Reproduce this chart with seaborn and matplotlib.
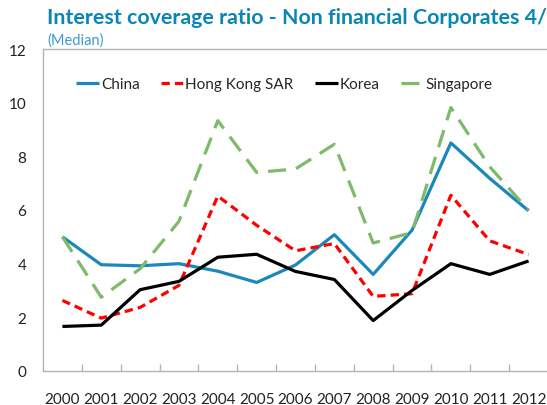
import matplotlib
matplotlib.use("Agg")
import matplotlib.pyplot as plt
import seaborn as sns
import pandas as pd

years = [str(y) for y in range(2000, 2013)]
china = [5.0, 3.96, 3.92, 4.0, 3.72, 3.30, 3.95, 5.08, 3.60, 5.25, 8.50, 7.18, 5.97]
hong_kong = [2.63, 1.97, 2.37, 3.19, 6.52, 5.43, 4.48, 4.75, 2.78, 2.88, 6.55, 4.85, 4.34]
korea = [1.66, 1.71, 3.03, 3.34, 4.24, 4.35, 3.71, 3.41, 1.88, 3.0, 4.0, 3.60, 4.10]
singapore = [5.0, 2.75, 3.81, 5.58, 9.33, 7.40, 7.53, 8.45, 4.77, 5.16, 9.82, 7.61, 5.99]

series = {
    "China": china,
    "Hong Kong SAR": hong_kong,
    "Korea": korea,
    "Singapore": singapore,
}

rows = []
for name, vals in series.items():
    for i, (yr, v) in enumerate(zip(years, vals)):
        rows.append({"pos": i, "year": yr, "country": name, "value": v})
df = pd.DataFrame(rows)

sns.set_theme(style="white")
plt.rcParams["font.family"] = ["Lato", "DejaVu Sans"]

palette = {
    "China": "#1a88ba",
    "Hong Kong SAR": "#ff0000",
    "Korea": "#000000",
    "Singapore": "#7dba6a",
}
dashes = {
    "China": "",
    "Hong Kong SAR": (2.6, 1.6),
    "Korea": "",
    "Singapore": (5.6, 3.2),
}

fig = plt.figure(figsize=(5.47, 4.06), dpi=100)
ax = fig.add_axes([43 / 547, 34 / 406, 505 / 547, 322 / 406])

sns.lineplot(data=df, x="pos", y="value", hue="country", style="country",
             palette=palette, dashes=dashes, linewidth=2.3, ax=ax,
             legend=True)
for line in ax.get_lines():
    line.set_solid_capstyle("butt")
    line.set_dash_capstyle("butt")

ax.set_xlim(-0.5, 12.5)
ax.set_ylim(0, 12)
ax.set_yticks(range(0, 13, 2))
ax.set_xticks(range(len(years)))
ax.set_xticklabels(years)
ax.set_xticks([i + 0.5 for i in range(len(years) - 1)], minor=True)
ax.set_xlabel("")
ax.set_ylabel("")

grey = "#b3b3b3"
for side in ["left", "bottom", "top"]:
    ax.spines[side].set_visible(True)
    ax.spines[side].set_color(grey)
    ax.spines[side].set_linewidth(1.0)
ax.spines["right"].set_visible(False)

ax.tick_params(axis="y", which="major", direction="in", length=5, width=1,
               color=grey, labelsize=11, pad=12, labelcolor="#222222")
ax.tick_params(axis="x", which="major", length=0, labelsize=11, pad=15,
               labelcolor="#222222")
ax.tick_params(axis="x", which="minor", direction="in", length=5, width=1,
               color=grey, bottom=True)

leg = ax.legend(loc="center", bbox_to_anchor=(0.478, 0.891), ncol=4,
                frameon=False, fontsize=11, handlelength=1.5,
                handletextpad=0.1, columnspacing=1.4)

fig.text(47 / 547, 1 - 18 / 406, "Interest coverage ratio - Non financial Corporates 4/",
         fontsize=15.4, fontweight="bold", color="#0a86b6", va="center", ha="left")
fig.text(47 / 547, 1 - 41 / 406, "(Median)", fontsize=10.5, color="#3d9bcc",
         va="center", ha="left")

fig.savefig("out.png", dpi=100)
